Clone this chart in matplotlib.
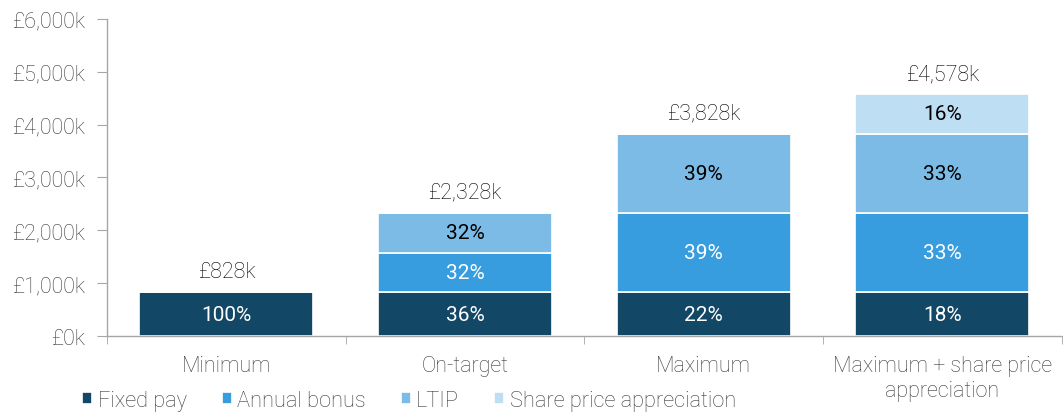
import matplotlib
matplotlib.use("Agg")
import matplotlib.pyplot as plt
import numpy as np

plt.rcParams["font.family"] = ["Roboto", "DejaVu Sans"]

scenarios = ["Minimum", "On-target", "Maximum", "Maximum + share price\nappreciation"]
components = ["Fixed pay", "Annual bonus", "LTIP", "Share price appreciation"]
# £k per scenario, one list per component
fixed_pay = [828, 828, 828, 828]
annual_bonus = [0, 750, 1500, 1500]
ltip = [0, 750, 1500, 1500]
share_price = [0, 0, 0, 750]

colors = ["#134766", "#389dde", "#7dbbe7", "#bedef3"]
text_colors = ["white", "white", "black", "black"]
grey = "#3a3a3a"
fs = 15.5

series = np.array([fixed_pay, annual_bonus, ltip, share_price], dtype=float)
totals = series.sum(axis=0)
x = np.arange(len(scenarios))

fig = plt.figure(figsize=(10.63, 4.14), dpi=100)
ax = fig.add_axes([0.1007, 0.186, 0.898, 0.766])

bottom = np.zeros(len(scenarios))
for vals, name, col, tcol in zip(series, components, colors, text_colors):
    ax.bar(x, vals, 0.73, bottom=bottom, color=col, edgecolor="white",
           linewidth=1.2, label=name)
    for xi, v, b, tot in zip(x, vals, bottom, totals):
        if v > 0:
            ax.text(xi, b + v / 2, f"{round(100 * v / tot):.0f}%", ha="center",
                    va="center", color=tcol, fontsize=15)
    bottom += vals

for xi, tot in zip(x, totals):
    ax.text(xi, tot + 190, f"£{tot:,.0f}k", ha="center", va="bottom",
            color="black", fontsize=fs, fontweight="light")

ax.set_xlim(-0.5, len(scenarios) - 0.5)
ax.set_ylim(0, 6000)
ax.set_yticks(np.arange(0, 6001, 1000))
ax.set_yticklabels([f"£{v:,}k" for v in range(0, 6001, 1000)])
ax.set_xticks(x)
ax.set_xticklabels(scenarios, linespacing=1.25)
ax.set_xticks(np.arange(-0.5, len(scenarios)), minor=True)
ax.tick_params(axis="x", which="major", length=0, pad=14, labelsize=fs, labelcolor=grey)
ax.tick_params(axis="x", which="minor", length=6, color="#a6a6a6", direction="out")
ax.tick_params(axis="y", length=7, color="#a6a6a6", labelsize=fs, labelcolor=grey, pad=9)
for lbl in ax.get_xticklabels() + ax.get_yticklabels():
    lbl.set_fontweight("light")

for side in ["top", "right"]:
    ax.spines[side].set_visible(False)
for side in ["left", "bottom"]:
    ax.spines[side].set_color("#a6a6a6")
    ax.spines[side].set_linewidth(1)

handles, labels = ax.get_legend_handles_labels()
leg = fig.legend(handles, labels, loc="lower left", bbox_to_anchor=(0.059, -0.042),
                 ncol=4, frameon=False, handlelength=0.46, handleheight=0.46,
                 handletextpad=0.25, columnspacing=1.6, fontsize=15.7)
for t in leg.get_texts():
    t.set_color(grey)
    t.set_fontweight("light")

fig.savefig("out.png", dpi=100)
